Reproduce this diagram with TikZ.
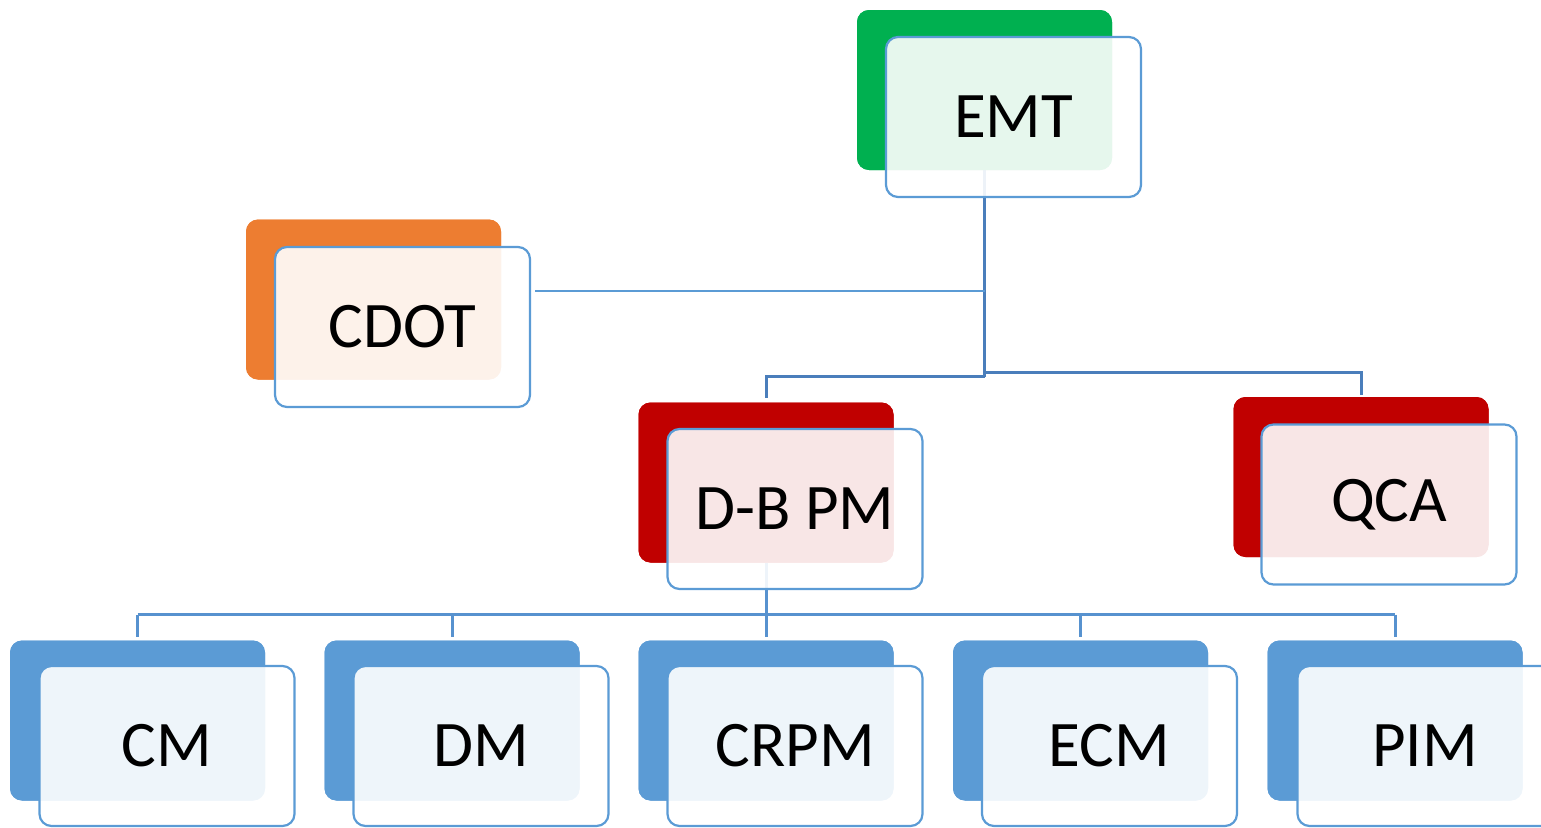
\documentclass[tikz,border=0pt]{standalone}
\usepackage{fontspec}
\setmainfont{Carlito}
\usetikzlibrary{calc}
\definecolor{cgreen}{HTML}{00B050}
\definecolor{corange}{HTML}{ED7D31}
\definecolor{cred}{HTML}{C00000}
\definecolor{cblue}{HTML}{5B9BD5}
\definecolor{cline}{HTML}{4A7EBB}
\definecolor{cline2}{HTML}{5792CF}
\tikzset{
  backbox/.style={rectangle, rounded corners=12pt, minimum width=255pt, minimum height=160pt, inner sep=0pt, fill=#1, draw=none},
  frontbox/.style={rectangle, rounded corners=12pt, minimum width=255pt, minimum height=160pt, inner sep=0pt,
    draw=cblue, line width=2.2pt, fill=white, fill opacity=0.9, text opacity=1,
    font=\fontsize{65}{78}\selectfont, text=black},
  conn/.style={draw=cline, line width=3pt},
  conn2/.style={draw=cline2, line width=3pt},
  thinconn/.style={draw=cblue, line width=1.6pt},
}
\begin{document}
\begin{tikzpicture}[x=1pt,y=-1pt]
\useasboundingbox (0,0) rectangle (1541,827);
\clip (0,0) rectangle (1541,827);
% node positions (back boxes)
\coordinate (emtbp) at (984.5,90);
\coordinate (cdotbp) at (373.5,299.5);
\coordinate (dbbp) at (766,482.5);
\coordinate (qcabp) at (1361,477);
% connector coordinates
\coordinate (jl) at (984.5,376.7);
\coordinate (jr) at (984.5,372);
\coordinate (jc) at (984.5,290.7);
\coordinate (bus) at (766,614.5);
% back boxes (named) placed first so connectors can refer to them
\node[backbox=cgreen] (emtb) at (emtbp) {};
\node[backbox=corange] (cdotb) at (cdotbp) {};
\node[backbox=cred] (dbb) at (dbbp) {};
\node[backbox=cred] (qcab) at (qcabp) {};
\node[backbox=cblue] (cmb) at (137.5,720.5) {};
\node[backbox=cblue] (dmb) at (452,720.5) {};
\node[backbox=cblue] (crpmb) at (766,720.5) {};
\node[backbox=cblue] (ecmb) at (1080.5,720.5) {};
\node[backbox=cblue] (pimb) at (1395,720.5) {};
% connectors
\draw[conn] (emtb.south) -- (jl);
\draw[conn, shorten >=4pt] (jl) -| (dbb.north);
\draw[conn, shorten >=2pt] (jr) -| (qcab.north);
\draw[thinconn, shorten >=4pt] (jc) -- (402.5+128.5,290.7);
\draw[conn2] (dbb.south) -- (bus);
\draw[conn2] (cmb.north |- bus) -- (pimb.north |- bus);
\foreach \n in {cmb,dmb,crpmb,ecmb,pimb}
  \draw[conn2, shorten >=3pt] (\n.north |- bus) -- (\n.north);
% redraw back boxes over connectors
\node[backbox=cgreen] at (emtbp) {};
\node[backbox=corange] at (cdotbp) {};
\node[backbox=cred] at (dbbp) {};
\node[backbox=cred] at (qcabp) {};
\foreach \n in {cmb,dmb,crpmb,ecmb,pimb}
  \node[backbox=cblue] at (\n) {};
% front boxes
\node[frontbox] (emt) at (1013.5,117) {EMT};
\node[frontbox] (cdot) at (402.5,327) {CDOT};
\node[frontbox] (db) at (795,509) {D-B PM};
\node[frontbox] (qca) at (1389,504.5) {QCA};
\node[frontbox] (cm) at (167,746) {CM};
\node[frontbox] (dm) at (481,746) {DM};
\node[frontbox] (crpm) at (795,746) {CRPM};
\node[frontbox] (ecm) at (1109.5,746) {ECM};
\node[frontbox] (pim) at (1425,746) {PIM};
\end{tikzpicture}
\end{document}
